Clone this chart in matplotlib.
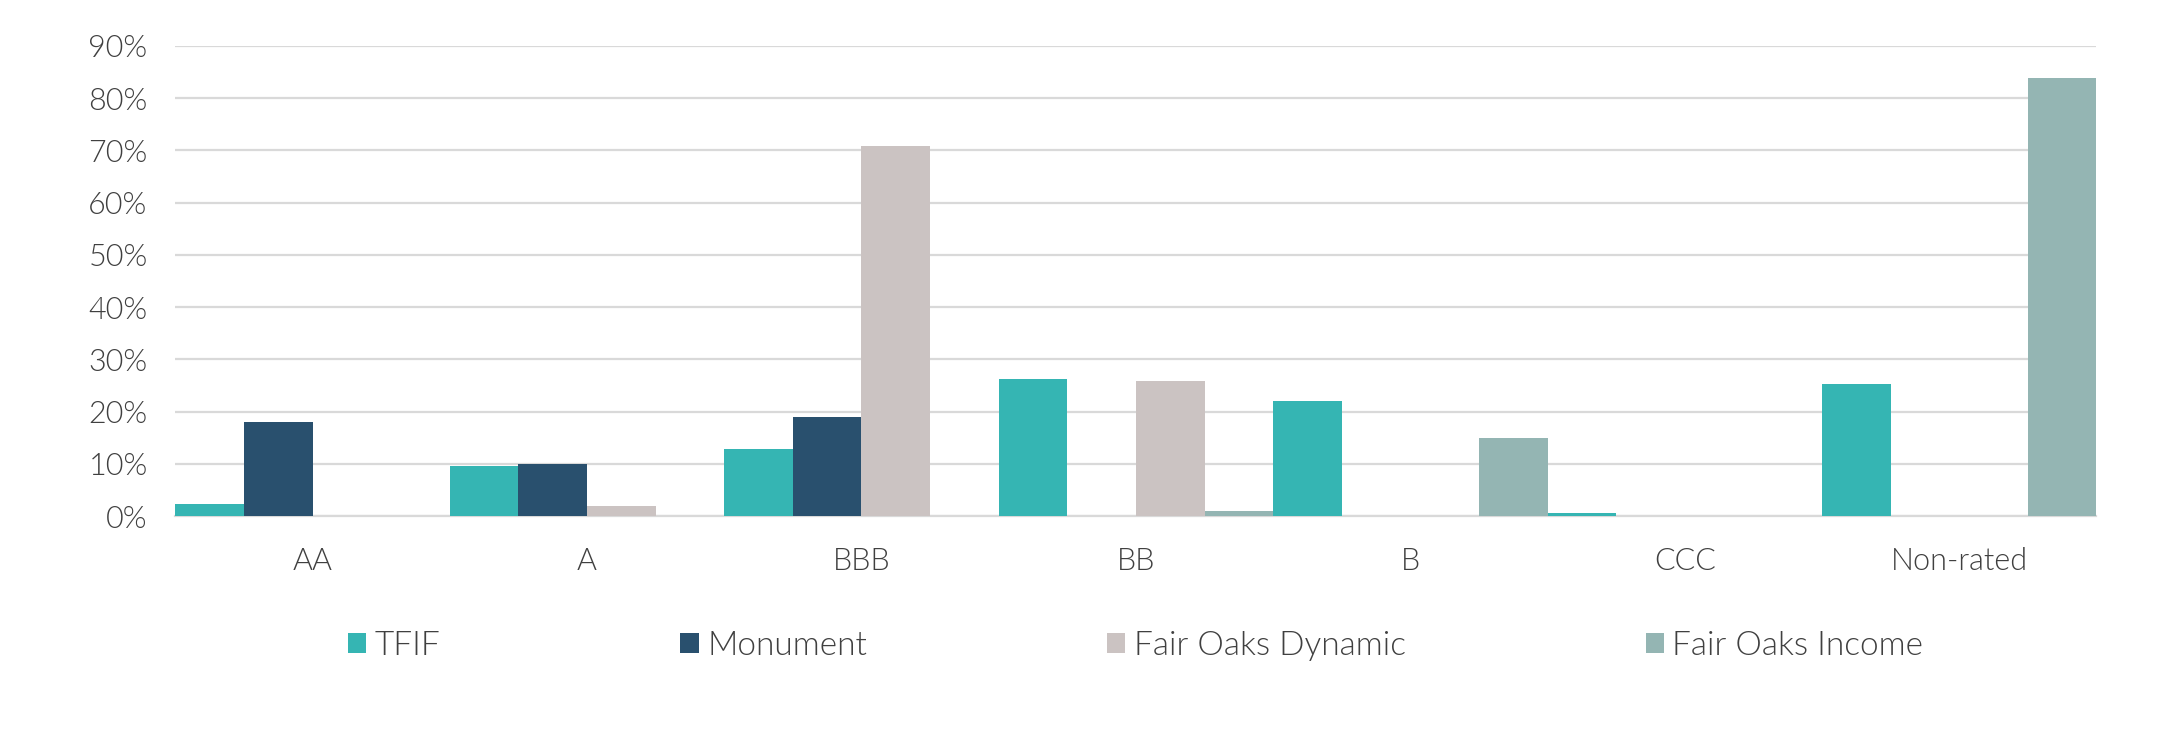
import matplotlib.pyplot as plt
import numpy as np

categories = ["AA", "A", "BBB", "BB", "B", "CCC", "Non-rated"]
series = ["TFIF", "Monument", "Fair Oaks Dynamic", "Fair Oaks Income"]
tfif = [2.3, 9.6, 12.8, 26.2, 22.0, 0.6, 25.3]
monument = [18.1, 10.0, 18.9, 0, 0, 0, 0]
fo_dynamic = [0, 1.9, 70.8, 25.8, 0, 0, 0]
fo_income = [0, 0, 0, 1.0, 14.9, 0, 83.8]
yticks = [0, 10, 20, 30, 40, 50, 60, 70, 80, 90]

colors = ["#35b5b3", "#29506e", "#cbc3c2", "#94b5b3"]
text_col = "#404040"

plt.rcParams['font.family'] = ['Lato', 'DejaVu Sans']
plt.rcParams['font.weight'] = 300

fig = plt.figure(figsize=(21.84, 7.30), dpi=100)
ax = fig.add_axes([0.0803, 0.293, 0.8796, 0.644])

x = np.arange(len(categories))
w = 0.25
for i, vals in enumerate([tfif, monument, fo_dynamic, fo_income]):
    ax.bar(x + (i - 1.5) * w, vals, width=w, color=colors[i], label=series[i], zorder=3)

ax.set_xlim(-0.5, len(categories) - 0.5)
ax.set_ylim(0, 90)
ax.set_yticks(yticks)
ax.set_yticklabels([f"{v}%" for v in yticks])
ax.set_xticks(x)
ax.set_xticklabels(categories)
ax.yaxis.grid(True, color="#d9d9d9", linewidth=1.6, zorder=0)
ax.tick_params(length=0, labelsize=22, colors=text_col)
ax.tick_params(axis='y', pad=20)
ax.tick_params(axis='x', pad=22)
for s in ["top", "right", "left"]:
    ax.spines[s].set_visible(False)
ax.spines["bottom"].set_color("#d9d9d9")
ax.spines["bottom"].set_linewidth(1.6)

leg = fig.legend(loc="center", bbox_to_anchor=(0.52, 0.115), ncol=4, frameon=False,
                 fontsize=24, handlelength=0.55, handleheight=0.55, handletextpad=0.25,
                 columnspacing=7.2, labelcolor=text_col)

fig.savefig("out.png", dpi=100, facecolor="white")
